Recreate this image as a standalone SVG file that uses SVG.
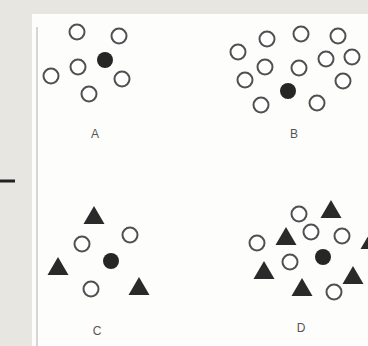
<svg xmlns="http://www.w3.org/2000/svg" width="368" height="346" viewBox="0 0 368 346">
<style>
.o{fill:#fff;stroke:#505050;stroke-width:2}
.f{fill:#262626}
.t{fill:#2a2a2a}
.lbl{font-family:"Liberation Sans",Arial,sans-serif;font-size:12px;fill:#555;text-anchor:middle}
</style>
<defs>
<path id="tri" d="M0,-9 L10.5,9 L-10.5,9 Z"/>
</defs>
<rect x="0" y="0" width="368" height="346" fill="#e8e6e1"/>
<rect x="32" y="14" width="336" height="332" fill="#fdfdfb"/>
<line x1="37" y1="27" x2="37" y2="346" stroke="#bdbdb8" stroke-width="1.2"/>
<line x1="0" y1="181" x2="15" y2="181" stroke="#222" stroke-width="3"/>
<g id="panelA">
<circle class="o" cx="77" cy="32" r="7.5"/>
<circle class="o" cx="119" cy="36" r="7.5"/>
<circle class="f" cx="105" cy="60" r="8"/>
<circle class="o" cx="78" cy="67" r="7.5"/>
<circle class="o" cx="51" cy="76" r="7.5"/>
<circle class="o" cx="122" cy="79" r="7.5"/>
<circle class="o" cx="89" cy="94" r="7.5"/>
<text class="lbl" x="95" y="138">A</text>
</g>
<g id="panelB">
<circle class="o" cx="267" cy="39" r="7.5"/>
<circle class="o" cx="301" cy="34" r="7.5"/>
<circle class="o" cx="338" cy="36" r="7.5"/>
<circle class="o" cx="238" cy="52" r="7.5"/>
<circle class="o" cx="265" cy="67" r="7.5"/>
<circle class="o" cx="299" cy="68" r="7.5"/>
<circle class="o" cx="326" cy="59" r="7.5"/>
<circle class="o" cx="352" cy="57" r="7.5"/>
<circle class="o" cx="245" cy="80" r="7.5"/>
<circle class="o" cx="343" cy="81" r="7.5"/>
<circle class="f" cx="288" cy="91" r="8"/>
<circle class="o" cx="261" cy="105" r="7.5"/>
<circle class="o" cx="317" cy="103" r="7.5"/>
<text class="lbl" x="294" y="138">B</text>
</g>
<g id="panelC">
<use href="#tri" class="t" x="94" y="215"/>
<circle class="o" cx="82" cy="244" r="7.5"/>
<circle class="o" cx="130" cy="235" r="7.5"/>
<circle class="f" cx="111" cy="261" r="8"/>
<use href="#tri" class="t" x="58" y="266"/>
<circle class="o" cx="91" cy="289" r="7.5"/>
<use href="#tri" class="t" x="139" y="286"/>
<text class="lbl" x="97" y="335">C</text>
</g>
<g id="panelD">
<circle class="o" cx="299" cy="214" r="7.5"/>
<use href="#tri" class="t" x="331" y="209"/>
<circle class="o" cx="257" cy="243" r="7.5"/>
<use href="#tri" class="t" x="286" y="236"/>
<circle class="o" cx="311" cy="232" r="7.5"/>
<circle class="o" cx="342" cy="236" r="7.5"/>
<use href="#tri" class="t" x="371" y="240"/>
<circle class="f" cx="323" cy="257" r="8"/>
<circle class="o" cx="290" cy="262" r="7.5"/>
<use href="#tri" class="t" x="264" y="270"/>
<use href="#tri" class="t" x="353" y="275"/>
<use href="#tri" class="t" x="302" y="287"/>
<circle class="o" cx="334" cy="292" r="7.5"/>
<text class="lbl" x="301" y="332">D</text>
</g>
</svg>
